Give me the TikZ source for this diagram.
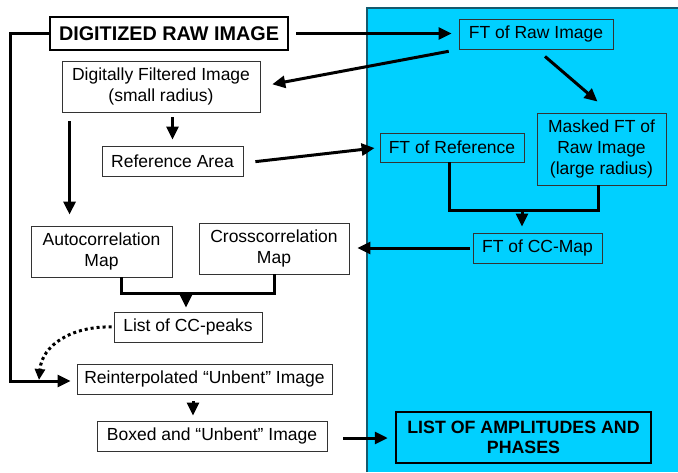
\documentclass[tikz,border=0pt]{standalone}
\usepackage{fontspec}
\setmainfont{Liberation Sans}
\usetikzlibrary{arrows.meta,calc}
\definecolor{panel}{RGB}{0,208,255}
\definecolor{panelline}{RGB}{20,90,110}
\begin{document}
\begin{tikzpicture}[x=1pt,y=-1pt,
  box/.style={draw=black!80, line width=0.9pt, align=center, inner sep=0pt, font=\fontsize{17.5}{21}\selectfont},
  tbox/.style={draw=black, line width=2.5pt, align=center, inner sep=0pt},
  conn/.style={line width=3pt},
  arr/.style={conn,-{Triangle[length=13pt,width=12pt]}},
  dotarr/.style={line width=3pt, dash pattern=on 3pt off 3pt, -{Triangle[length=11pt,width=10pt]}},
]
\path[use as bounding box] (0,0) rectangle (678,472);
% panel
\fill[panel] (367,8) rectangle (678,472);
\draw[panelline, line width=1.2pt] (367,472) -- (367,8) -- (678,8);

% nodes
\node[tbox, minimum width=238pt, minimum height=33pt, font=\fontsize{19.8}{22}\selectfont\bfseries] (raw) at (169,33.5) {DIGITIZED RAW IMAGE};
\node[box, minimum width=198pt, minimum height=51pt] (filt) at (161,86.5) {Digitally Filtered Image\\(small radius)};
\node[box, minimum width=141pt, minimum height=30pt] (ref) at (172.5,161) {Reference Area};
\node[box, minimum width=154pt, minimum height=30pt] (ftraw) at (536,34) {FT of Raw Image};
\node[box, minimum width=129pt, minimum height=72pt] (masked) at (601.5,149) {Masked FT of\\Raw Image\\(large radius)};
\node[box, minimum width=144pt, minimum height=29pt] (ftref) at (452,147.5) {FT of Reference};
\node[box, minimum width=129pt, minimum height=30pt] (ftcc) at (537.5,248) {FT of CC-Map};
\node[box, minimum width=141pt, minimum height=51pt] (auto) at (101.5,251.5) {Autocorrelation\\Map};
\node[box, minimum width=150pt, minimum height=51pt] (cross) at (274,248.5) {Crosscorrelation\\Map};
\node[box, minimum width=148pt, minimum height=30pt] (peaks) at (188,327) {List of CC-peaks};
\node[box, minimum width=255pt, minimum height=30pt] (reint) at (204.5,379) {Reinterpolated “Unbent” Image};
\node[box, minimum width=230pt, minimum height=30pt] (boxed) at (212,436) {Boxed and “Unbent” Image};
\node[tbox, minimum width=255pt, minimum height=51pt, font=\fontsize{17.8}{20}\selectfont\bfseries] (list) at (523.5,437.5) {LIST OF AMPLITUDES AND\\PHASES};

% coordinates
\coordinate (lc) at (10,381);
\coordinate (dt) at (39,380);
\coordinate (fa) at ($(filt.south west)+(8,0)$);
\coordinate (j1) at (522,210);
\coordinate (j2) at (186,293);

% connectors
\draw[arr, shorten >=6pt] (raw.west) -| (lc) -- (lc -| reint.west);
\draw[arr, shorten <=7pt, shorten >=7pt] (raw.east) -- (raw.east -| ftraw.west);
\draw[arr, shorten <=10pt, shorten >=12pt] (ftraw.south west) -- (filt.east);
\draw[arr] ($(ftraw.south)+(9,7)$) -- ($(masked.north)+(-4,-11)$);
\draw[arr, shorten <=5pt, shorten >=6pt] (filt.south -| ref.north) -- (ref.north);
\draw[arr, shorten <=9pt, shorten >=11pt] (fa) -- (fa |- auto.north);
\draw[arr, shorten <=12pt, shorten >=5pt] ($(ref.east)+(0,2)$) -- (ftref.west);
\draw[conn] ($(ftref.south)+(-3,0)$) |- (j1) -| ($(masked.south)+(-3,0)$);
\draw[arr, shorten >=6pt] (j1) -- (j1 |- ftcc.north);
\draw[arr, shorten <=3pt, shorten >=8pt] (ftcc.west) -- (ftcc.west -| cross.east);
\draw[conn] ($(auto.south)+(20,0)$) |- (j2) -| ($(cross.south)+(0,0)$);
\draw[arr, shorten >=4pt] (j2) -- (j2 |- peaks.north);
\draw[dotarr, shorten <=2pt] (peaks.west) .. controls (72,326) and (42,345) .. (dt);
\draw[arr, shorten <=7pt, shorten >=5pt] ($(reint.south)+(-11.5,0)$) -- ($(boxed.north)+(-19,0)$);
\draw[arr, shorten <=16pt, shorten >=7pt] ($(boxed.east)+(0,2)$) -- ($(boxed.east -| list.west)+(0,2)$);
\end{tikzpicture}
\end{document}
